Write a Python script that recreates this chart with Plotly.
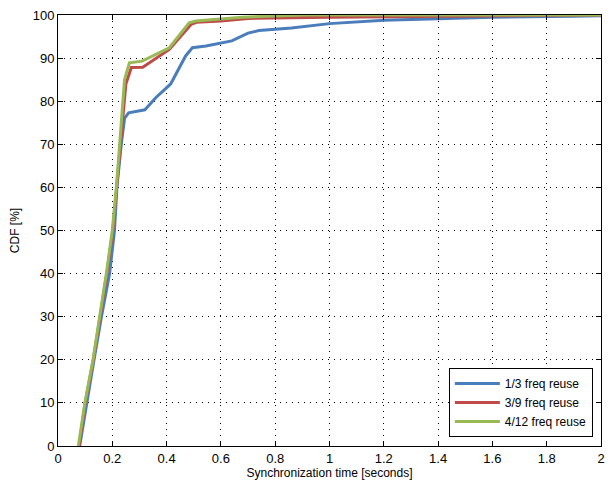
import plotly.graph_objects as go

blue_x = [0.08, 0.10, 0.13, 0.16, 0.19, 0.208, 0.217, 0.233, 0.245, 0.26, 0.32, 0.36, 0.415, 0.47, 0.495, 0.545, 0.64, 0.70, 0.74, 0.86, 0.92, 1.0, 1.2, 1.4, 1.6, 1.9, 2.0]
blue_y = [0, 8, 19, 30, 40, 50, 60, 70, 76, 77.3, 78, 80.8, 84, 90.5, 92.4, 92.8, 94, 95.8, 96.4, 97, 97.5, 98, 98.8, 99.2, 99.5, 99.7, 99.8]

red_x = [0.078, 0.10, 0.13, 0.155, 0.18, 0.202, 0.217, 0.23, 0.25, 0.27, 0.312, 0.41, 0.49, 0.51, 0.6, 0.7, 1.0, 1.48, 2.0]
red_y = [0, 10, 20, 30, 40, 50, 60, 70, 84, 87.8, 87.9, 92, 97.8, 98.3, 98.6, 99.2, 99.5, 99.7, 100]

green_x = [0.075, 0.099, 0.129, 0.154, 0.178, 0.2, 0.215, 0.227, 0.245, 0.263, 0.31, 0.41, 0.483, 0.507, 0.59, 0.68, 0.9, 2.0]
green_y = [0, 10, 20, 30, 40, 50, 60, 70, 85, 88.9, 89.3, 92.4, 98.2, 98.6, 99, 99.5, 100, 100]

names = ["1/3 freq reuse", "3/9 freq reuse", "4/12 freq reuse"]
colors = ["#4A7EBB", "#BE4B48", "#98B954"]

x_ticks = [0, 0.2, 0.4, 0.6, 0.8, 1, 1.2, 1.4, 1.6, 1.8, 2]
x_tick_text = ["0", "0.2", "0.4", "0.6", "0.8", "1", "1.2", "1.4", "1.6", "1.8", "2"]
y_ticks = [0, 10, 20, 30, 40, 50, 60, 70, 80, 90, 100]

fig = go.Figure()
for xs, ys, nm, c in zip([blue_x, red_x, green_x], [blue_y, red_y, green_y], names, colors):
    fig.add_trace(go.Scatter(x=xs, y=ys, mode="lines", name=nm,
                             line=dict(color=c, width=3)))

axis_common = dict(
    showline=True, linecolor="black", linewidth=1, mirror="ticks",
    ticks="inside", ticklen=5, tickcolor="black",
    showgrid=True, gridcolor="black", griddash="1px,5px", gridwidth=1,
    zeroline=False,
    tickfont=dict(family="Liberation Sans, Arial", size=13, color="black"),
)

fig.update_layout(
    width=609, height=483,
    margin=dict(l=58, r=4, t=15, b=37),
    paper_bgcolor="white", plot_bgcolor="white",
    font=dict(family="Liberation Sans, Arial", size=12, color="black"),
    xaxis=dict(range=[0, 2], tickvals=x_ticks, ticktext=x_tick_text,
               title=dict(text="Synchronization time [seconds]", font=dict(size=12), standoff=2),
               **axis_common),
    yaxis=dict(range=[0, 100], tickvals=y_ticks,
               title=dict(text="CDF [%]", font=dict(size=12), standoff=10),
               **axis_common),
    legend=dict(x=0.985, y=0.021, xanchor="right", yanchor="bottom",
                bgcolor="white", bordercolor="black", borderwidth=1,
                font=dict(size=12), tracegroupgap=0, itemwidth=45),
    showlegend=True,
)

fig.write_html("out.html", config={"displayModeBar": False},
               post_script="document.body.style.margin='0';document.body.style.overflow='hidden';")
